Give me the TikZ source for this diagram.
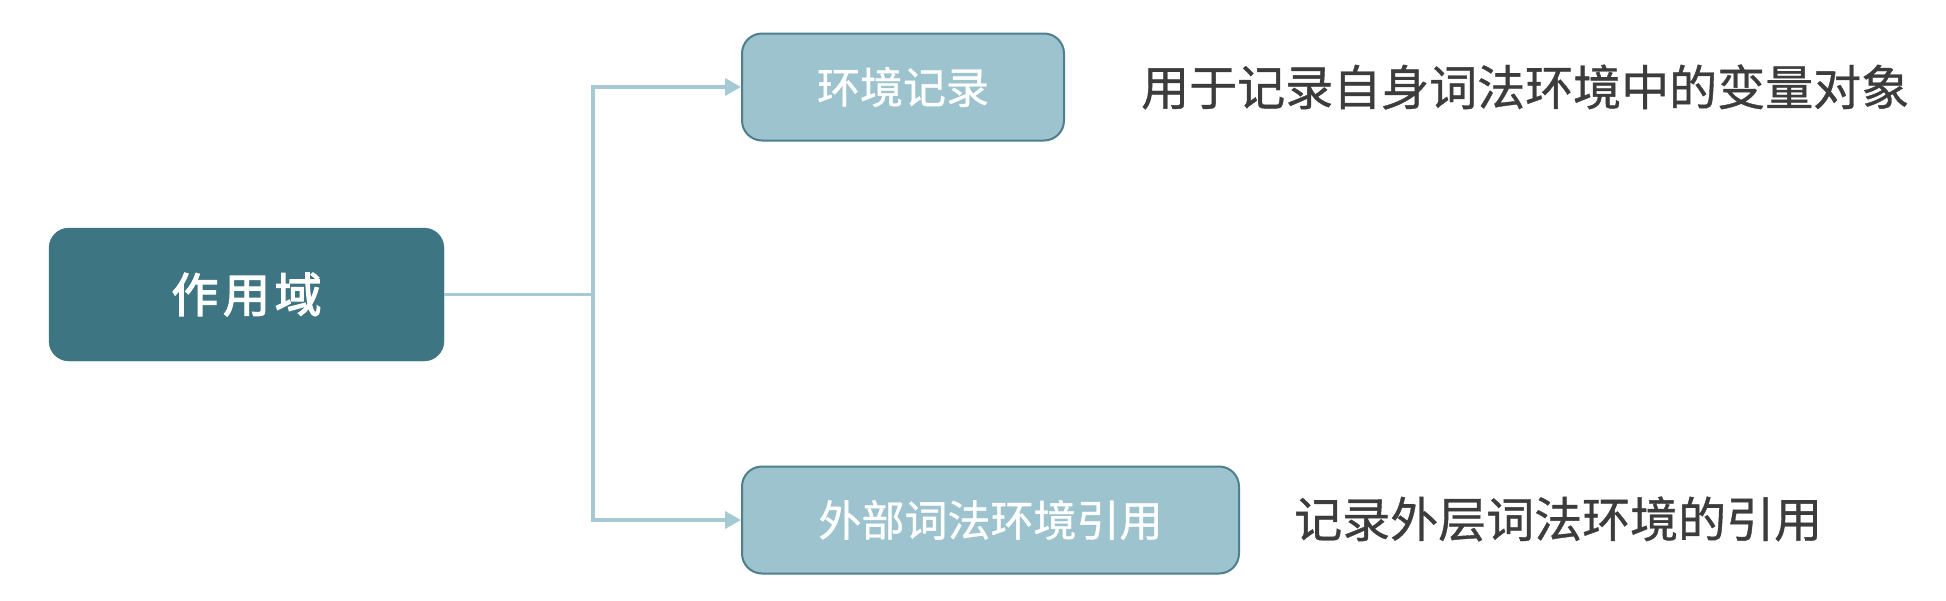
\documentclass[tikz,border=0pt]{standalone}
\usepackage{fontspec}
\setmainfont{Noto Sans CJK SC}
\newfontfamily\medfont{Noto Sans CJK SC}[FakeBold=0.8]
\newfontfamily\rootfont{Noto Sans CJK SC}[FakeBold=2.6,LetterSpace=10]
\usetikzlibrary{arrows.meta}
\definecolor{rootfill}{HTML}{3E7583}
\definecolor{leaffill}{HTML}{9CC3CE}
\definecolor{leafdraw}{HTML}{4E7F8C}
\definecolor{linec}{HTML}{A6CAD4}
\definecolor{txtc}{HTML}{3C3C3C}
\tikzset{
  rootbox/.style={fill=rootfill, draw=rootfill, rounded corners=20pt, minimum width=395pt, minimum height=133pt, text=white, font=\rootfont\fontsize{47}{58}\selectfont, inner sep=0pt},
  leafbox/.style={fill=leaffill, draw=leafdraw, line width=2pt, rounded corners=20pt, minimum height=107pt, text=white, font=\medfont\fontsize{43}{52}\selectfont, inner sep=0pt},
  conn/.style={draw=linec, line width=3.5pt},
  arr/.style={conn, -{Triangle[length=16pt,width=17pt]}},
  note/.style={text=txtc, font=\medfont\fontsize{48}{58}\selectfont, inner sep=0pt, anchor=west}
}
\begin{document}
\begin{tikzpicture}[x=1pt,y=-1pt]
\useasboundingbox[fill=white] (0,0) rectangle (1946,600);
\node[rootbox] (root) at (246.5,294.5) {作用域};
\node[leafbox, minimum width=322pt] (top) at (903,87) {环境记录};
\node[leafbox, minimum width=497pt] (bot) at (990.5,520) {外部词法环境引用};
\coordinate (j) at (593,294.5);
\draw[conn] (root.east) -- (j);
\draw[arr] (j) |- (top.west);
\draw[arr] (j) |- (bot.west);
\node[note] (n1) at (1141,87) {用于记录自身词法环境中的变量对象};
\node[note] (n2) at (1294,519) {记录外层词法环境的引用};
\end{tikzpicture}
\end{document}
